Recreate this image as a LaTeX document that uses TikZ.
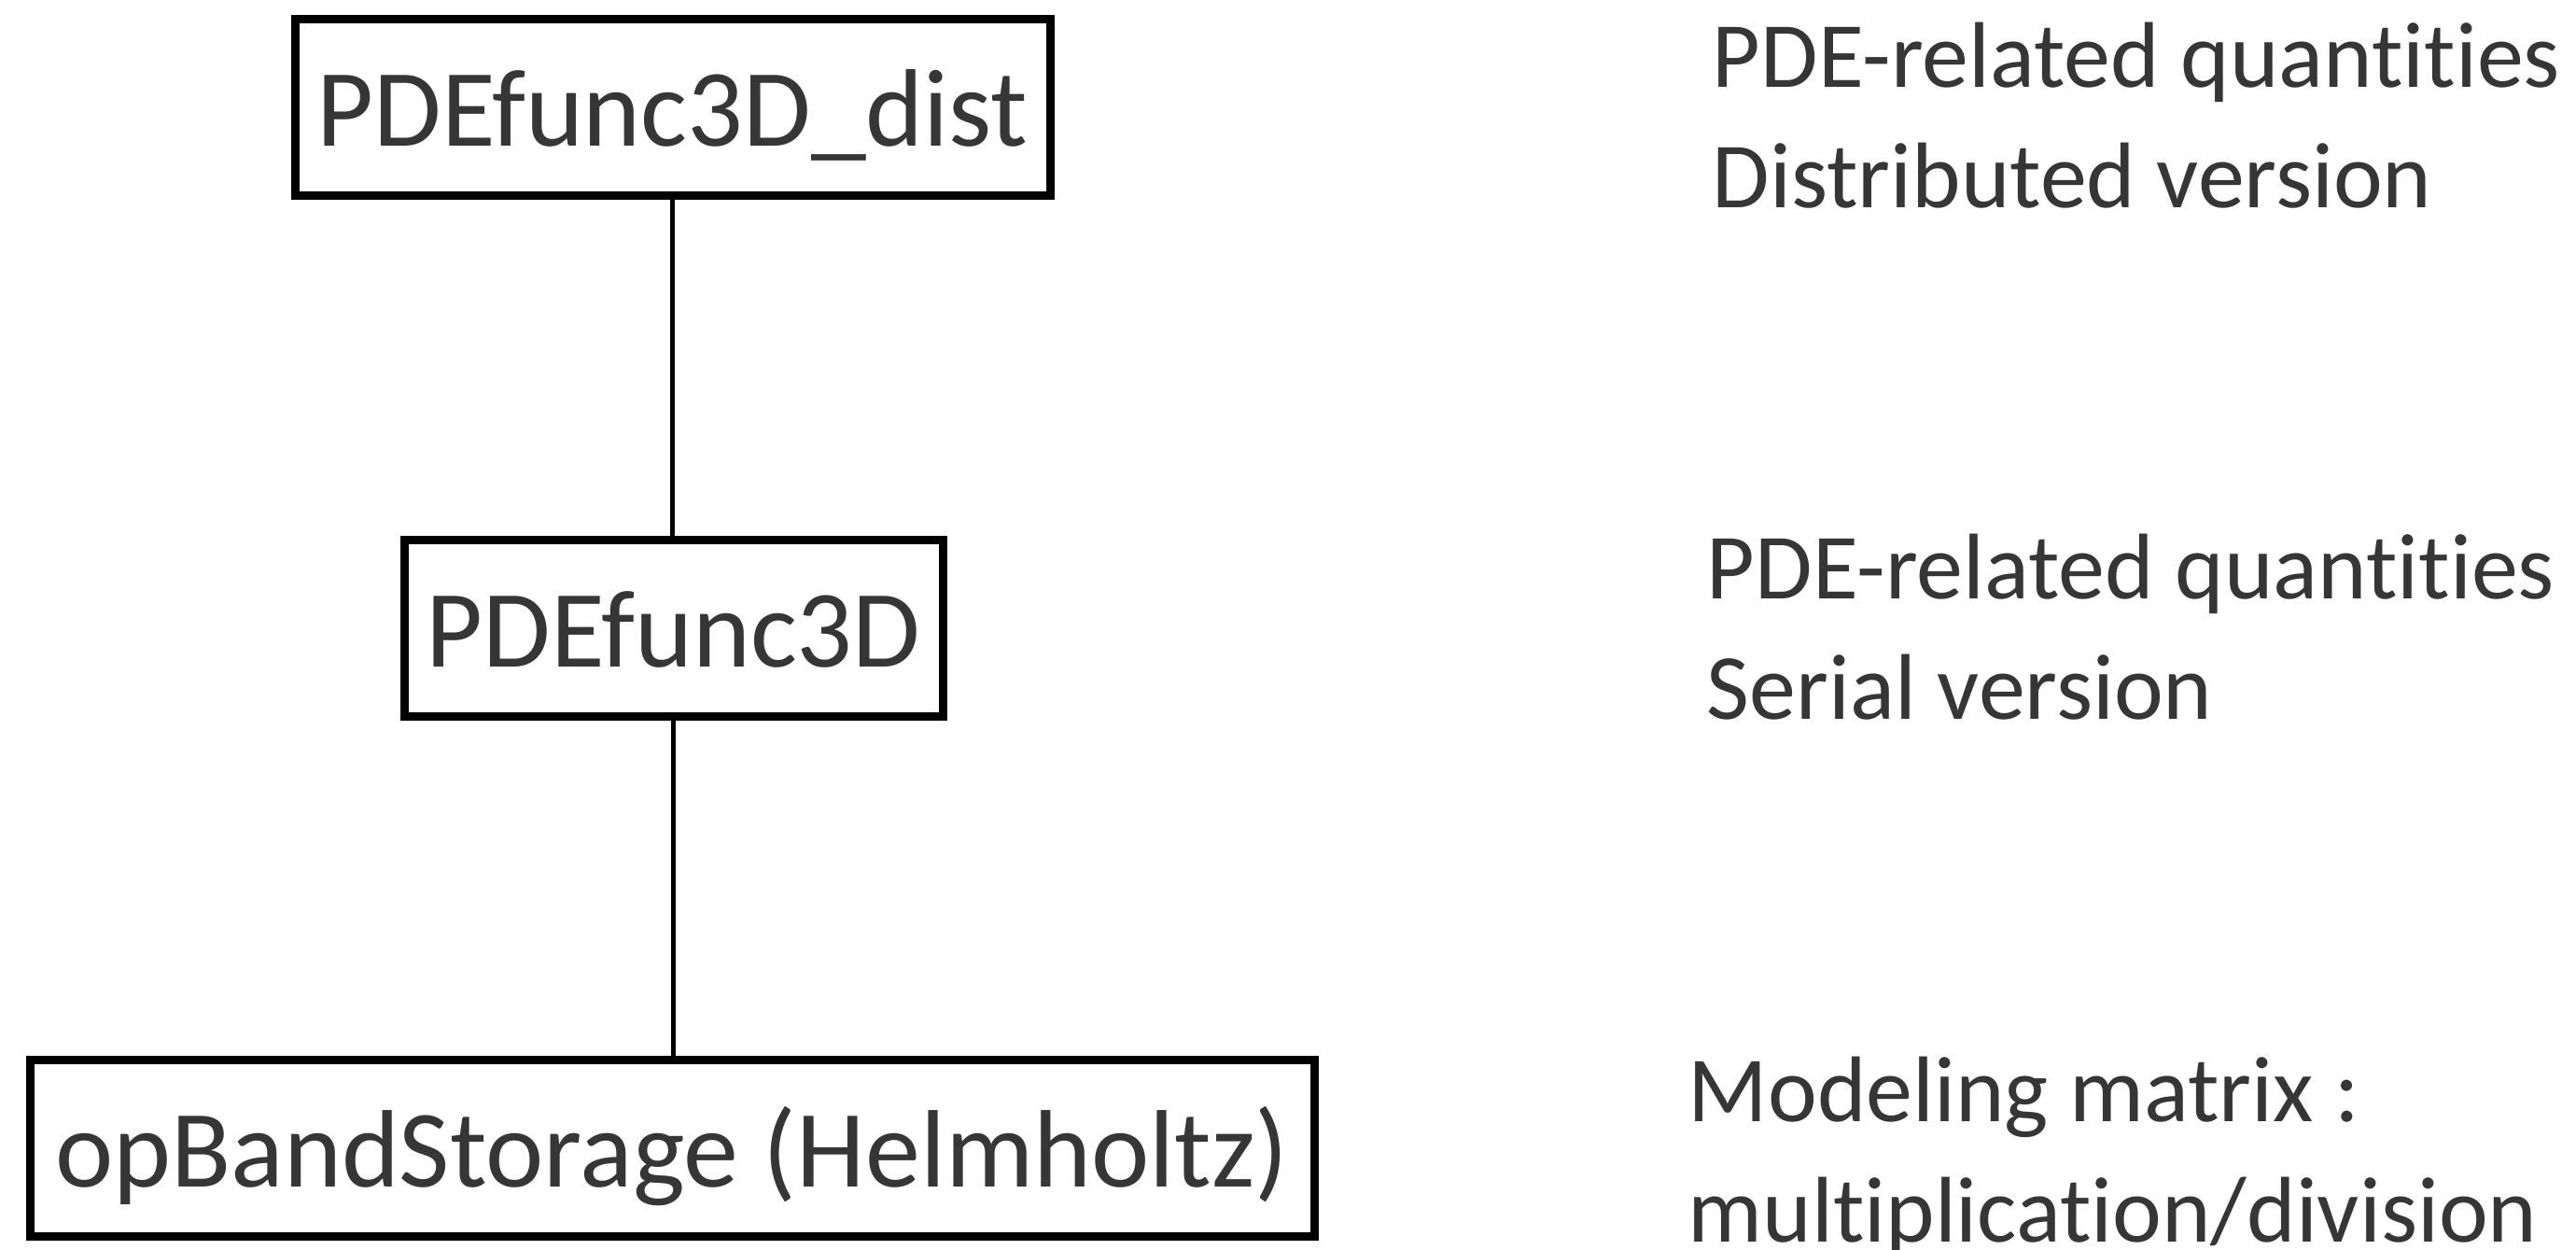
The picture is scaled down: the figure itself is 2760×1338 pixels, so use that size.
\documentclass[tikz,border=0pt]{standalone}
\usepackage{fontspec}
\setmainfont[Ligatures={NoCommon}]{Carlito}
\definecolor{txtgray}{HTML}{363636}
\begin{document}
\begin{tikzpicture}[x=0.25pt,y=-0.25pt,
  classbox/.style={draw=black, line width=2.25pt, rectangle, inner sep=0pt,
    minimum height=47.25pt, text=txtgray, font=\fontsize{29.5}{35}\selectfont,
    text height=21pt, text depth=0pt},
  desc/.style={anchor=base west, align=left, inner sep=0pt, text=txtgray,
    font=\fontsize{25}{32.2}\selectfont},
  link/.style={draw=black, line width=1.25pt}]
\useasboundingbox (0,0) rectangle (2760,1338);
\node[classbox, minimum width=202.25pt] (dist) at (720.5,114.5) {PDEfunc3D\_dist};
\node[classbox, minimum width=144.25pt] (serial) at (721.5,672.5) {PDEfunc3D};
\node[classbox, minimum width=344pt] (band) at (720,1229.5) {opBandStorage (Helmholtz)};
\draw[link] (dist.south) -- (dist.south |- serial.north);
\draw[link] (serial.south) -- (serial.south |- band.north);
\node[desc] (d1) at (1834,222) {PDE-related quantities\\Distributed version};
\node[desc] (d2) at (1828,770) {PDE-related quantities\\Serial version};
\node[desc] (d3) at (1808,1330) {Modeling matrix :\\multiplication/division};
\end{tikzpicture}
\end{document}
